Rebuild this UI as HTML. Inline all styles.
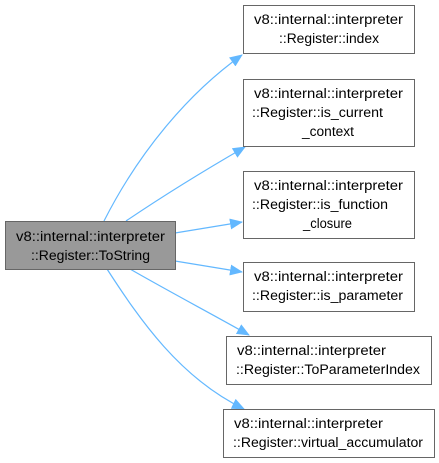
<!DOCTYPE html>
<html><head><meta charset="utf-8"><style>
html,body{margin:0;padding:0;background:#fff;}
svg{display:block;}
text{font-family:"Liberation Sans","DejaVu Sans",sans-serif;font-size:13.5px;fill:#000;}
</style></head><body>
<svg width="439" height="463" viewBox="0 0 439 463" xmlns="http://www.w3.org/2000/svg">
<defs>
<marker id="a" markerWidth="13" markerHeight="11" refX="12" refY="5.5" orient="auto" markerUnits="userSpaceOnUse">
<path d="M0,0 L13,5.5 L0,11 Z" fill="#63b8ff"/>
</marker>
</defs>
<g fill="none" stroke="#63b8ff" stroke-width="1.2" marker-end="url(#a)">
<path d="M104,221 C140,150 190,92 242,55"/>
<path d="M126,221 C160,198 200,173 245,147"/>
<path d="M175,233 L242,222"/>
<path d="M175,261 L242,272"/>
<path d="M130,269 C170,292 210,313 249,335"/>
<path d="M107,269 C140,320 180,378 244,409"/>
</g>
<g stroke="#666" stroke-width="1">
<rect x="5.5" y="221.5" width="170" height="48" fill="#999"/>
<rect x="243.5" y="5.5" width="171" height="48" fill="#fff"/>
<rect x="243.5" y="79.5" width="171" height="67" fill="#fff"/>
<rect x="243.5" y="171.5" width="171" height="67" fill="#fff"/>
<rect x="243.5" y="262.5" width="171" height="49" fill="#fff"/>
<rect x="226.5" y="336.5" width="205" height="48" fill="#fff"/>
<rect x="223.5" y="409.5" width="211" height="48" fill="#fff"/>
</g>
<g lengthAdjust="spacingAndGlyphs">
<text x="16" y="241" textLength="149" lengthAdjust="spacingAndGlyphs">v8::internal::interpreter</text>
<text x="31" y="260" textLength="119" lengthAdjust="spacingAndGlyphs">::Register::ToString</text>
<text x="254" y="24" textLength="149" lengthAdjust="spacingAndGlyphs">v8::internal::interpreter</text>
<text x="279" y="43" textLength="100" lengthAdjust="spacingAndGlyphs">::Register::index</text>
<text x="254" y="98" textLength="149" lengthAdjust="spacingAndGlyphs">v8::internal::interpreter</text>
<text x="252" y="117" textLength="131" lengthAdjust="spacingAndGlyphs">::Register::is_current</text>
<text x="302" y="136" textLength="52" lengthAdjust="spacingAndGlyphs">_context</text>
<text x="254" y="190" textLength="149" lengthAdjust="spacingAndGlyphs">v8::internal::interpreter</text>
<text x="252" y="209" textLength="136" lengthAdjust="spacingAndGlyphs">::Register::is_function</text>
<text x="303" y="228" textLength="49" lengthAdjust="spacingAndGlyphs">_closure</text>
<text x="254" y="281" textLength="149" lengthAdjust="spacingAndGlyphs">v8::internal::interpreter</text>
<text x="252" y="300" textLength="151" lengthAdjust="spacingAndGlyphs">::Register::is_parameter</text>
<text x="237" y="355" textLength="149" lengthAdjust="spacingAndGlyphs">v8::internal::interpreter</text>
<text x="236" y="374" textLength="184" lengthAdjust="spacingAndGlyphs">::Register::ToParameterIndex</text>
<text x="234" y="428" textLength="149" lengthAdjust="spacingAndGlyphs">v8::internal::interpreter</text>
<text x="233" y="447" textLength="190" lengthAdjust="spacingAndGlyphs">::Register::virtual_accumulator</text>
</g>
</svg>
</body></html>
